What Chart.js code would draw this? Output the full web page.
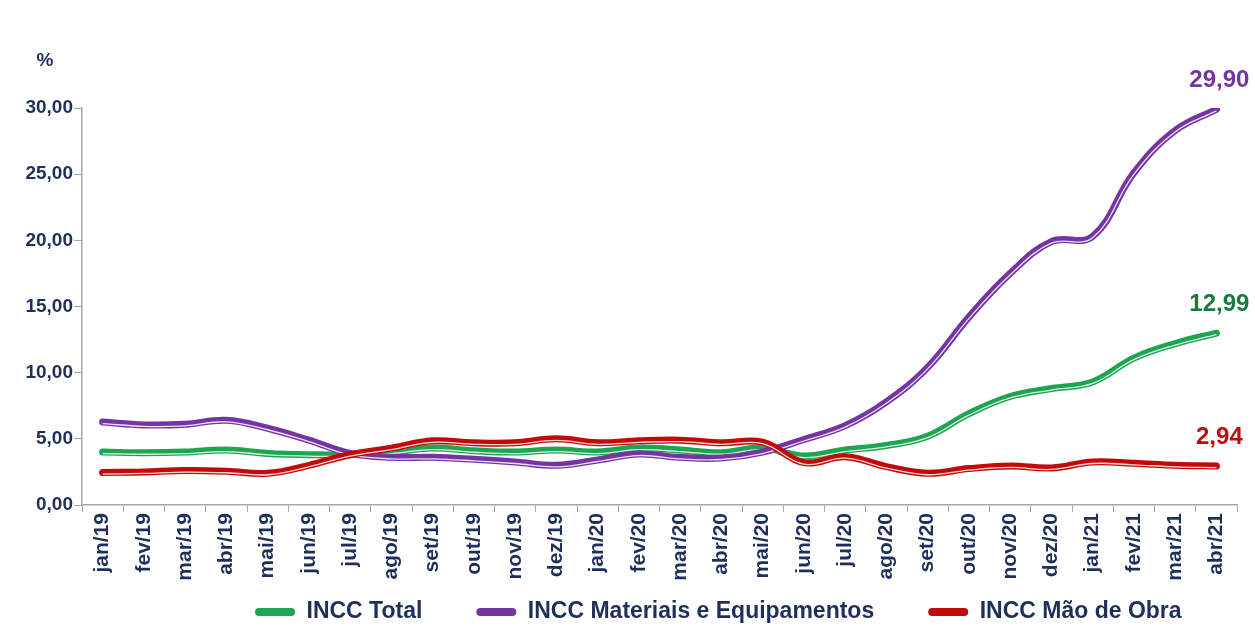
<!DOCTYPE html>
<html>
<head>
<meta charset="utf-8">
<script src="https://cdn.jsdelivr.net/npm/chart.js@4.4.1/dist/chart.umd.min.js"></script>
<style>
  html, body { margin: 0; padding: 0; background: #fff; }
  #wrap { width: 1255px; height: 626px; position: relative; }
</style>
</head>
<body>
<div id="wrap"><canvas id="chart"></canvas></div>
<script>
const months = ['jan/19', 'fev/19', 'mar/19', 'abr/19', 'mai/19', 'jun/19', 'jul/19', 'ago/19', 'set/19', 'out/19',
  'nov/19', 'dez/19', 'jan/20', 'fev/20', 'mar/20', 'abr/20', 'mai/20', 'jun/20', 'jul/20', 'ago/20',
  'set/20', 'out/20', 'nov/20', 'dez/20', 'jan/21', 'fev/21', 'mar/21', 'abr/21'];

const inccTotal = [4.0, 3.95, 4.0, 4.15, 3.9, 3.8, 3.8, 4.0, 4.3, 4.1, 4.0, 4.15, 4.0, 4.3, 4.15, 3.95,
  4.3, 3.7, 4.15, 4.5, 5.2, 6.9, 8.2, 8.8, 9.3, 11.1, 12.2, 12.99];
const inccMateriais = [6.27, 6.05, 6.1, 6.4, 5.8, 4.9, 3.9, 3.6, 3.6, 3.45, 3.25, 3.0, 3.4, 3.85, 3.6, 3.55,
  4.0, 4.95, 6.0, 7.8, 10.4, 14.2, 17.5, 19.9, 20.3, 25.1, 28.3, 29.9];
const inccMaoDeObra = [2.45, 2.5, 2.6, 2.55, 2.4, 3.0, 3.8, 4.3, 4.85, 4.7, 4.7, 5.0, 4.7, 4.85, 4.9, 4.7,
  4.75, 3.2, 3.65, 2.9, 2.4, 2.75, 2.95, 2.8, 3.25, 3.15, 3.0, 2.94];

const yTicks = [0, 5, 10, 15, 20, 25, 30];

const navy = '#1f2f5c';
const fontFamily = "'Liberation Sans', Arial, sans-serif";

const series = [
  { label: 'INCC Total', data: inccTotal, color: '#1ea552', text: '#177a3e' },
  { label: 'INCC Materiais e Equipamentos', data: inccMateriais, color: '#7434a4', text: '#7434a4' },
  { label: 'INCC Mão de Obra', data: inccMaoDeObra, color: '#c20a0a', text: '#c20a0a' }
];

const fmt = (v) => v.toFixed(2).replace('.', ',');

const legendFont = 23;
const legendGap = 54;
const xAxisHeight = 80;

const datasets = [];
series.forEach((s, i) => {
  datasets.push({
    label: s.label, data: s.data, borderColor: s.color, backgroundColor: s.color,
    borderWidth: 7, pointRadius: 0, tension: 0.4, borderCapStyle: 'round', order: 10 - i * 2
  });
  datasets.push({
    label: s.label + ' hl', data: s.data, borderColor: 'rgba(255,255,255,0.85)',
    borderWidth: 1.3, pointRadius: 0, tension: 0.4, order: 9 - i * 2, highlight: true
  });
});

// thin light line sits a bit below the middle of each thick line
const tubePlugin = {
  id: 'tube',
  beforeDatasetDraw(chart, args) {
    if (chart.data.datasets[args.index].highlight) {
      chart.ctx.save();
      chart.ctx.translate(0, 1.5);
    }
  },
  afterDatasetDraw(chart, args) {
    if (chart.data.datasets[args.index].highlight) chart.ctx.restore();
  }
};

const labelPlugin = {
  id: 'labels',
  afterLayout(chart) {
    // put the legend where it is in the reference (first icon at x 255, text centre y 612)
    const lg = chart.legend;
    const opts = lg.options.labels;
    const startX = (lg.left + lg.right + opts.padding - lg.lineWidths[0]) / 2;
    const dx = 255 - startX;
    const dy = 612 - (lg.top + opts.padding + opts.font.size / 2);
    lg.left += dx; lg.right += dx;
    lg.top += dy; lg.bottom += dy;
  },
  afterDraw(chart) {
    const ctx = chart.ctx;
    const xs = chart.scales.x, ys = chart.scales.y;
    ctx.save();
    ctx.font = 'bold 19px ' + fontFamily;
    ctx.fillStyle = navy;
    ctx.textAlign = 'center';
    ctx.textBaseline = 'middle';
    ctx.fillText('%', 45, 61);
    ctx.font = 'bold 24px ' + fontFamily;
    series.forEach((s) => {
      const last = s.data.length - 1;
      const x = xs.getPixelForValue(last);
      const y = ys.getPixelForValue(s.data[last]);
      ctx.fillStyle = s.text;
      ctx.fillText(fmt(s.data[last]), x + 3, y - 29);
    });
    ctx.restore();
  }
};

// legend box height is font + gap + 10; pull the bottom in so the plot ends at y 505
const bottomPad = 626 - 505 - xAxisHeight - (legendFont + legendGap + 10);

new Chart(document.getElementById('chart'), {
  type: 'line',
  data: { labels: months, datasets },
  options: {
    responsive: true,
    maintainAspectRatio: false,
    animation: false,
    layout: { padding: { top: 108, right: 18, left: 0, bottom: bottomPad } },
    plugins: {
      tooltip: { enabled: false },
      legend: {
        position: 'bottom',
        labels: {
          color: navy,
          font: { family: fontFamily, size: legendFont, weight: 'bold' },
          boxWidth: 40,
          boxHeight: 8,
          padding: legendGap,
          useBorderRadius: true,
          borderRadius: 4,
          filter: (item, data) => !data.datasets[item.datasetIndex].highlight,
          generateLabels(chart) {
            return chart.data.datasets.map((d, i) => ({
              text: d.label, fillStyle: d.borderColor, strokeStyle: d.borderColor,
              lineWidth: 0, datasetIndex: i, fontColor: navy, borderRadius: 4
            }));
          }
        }
      }
    },
    scales: {
      x: {
        offset: true,
        grid: { display: true, drawOnChartArea: false, offset: true, tickLength: 7, color: '#a6a6a6' },
        border: { color: '#a6a6a6', width: 1.5 },
        ticks: {
          color: navy, font: { family: fontFamily, size: 21, weight: 'bold' },
          minRotation: 90, maxRotation: 90, autoSkip: false, padding: 1
        },
        afterFit(s) { s.height = xAxisHeight; }
      },
      y: {
        min: 0, max: 30,
        afterBuildTicks(s) { s.ticks = yTicks.map((v) => ({ value: v })); },
        grid: { display: true, drawOnChartArea: false, tickLength: 8, color: '#a6a6a6' },
        border: { color: '#a6a6a6', width: 1.5 },
        ticks: {
          color: navy, font: { family: fontFamily, size: 19, weight: 'bold' }, padding: 1,
          callback: (v) => fmt(v)
        },
        afterFit(s) { s.width = 82; }
      }
    }
  },
  plugins: [tubePlugin, labelPlugin]
});
</script>
</body>
</html>
